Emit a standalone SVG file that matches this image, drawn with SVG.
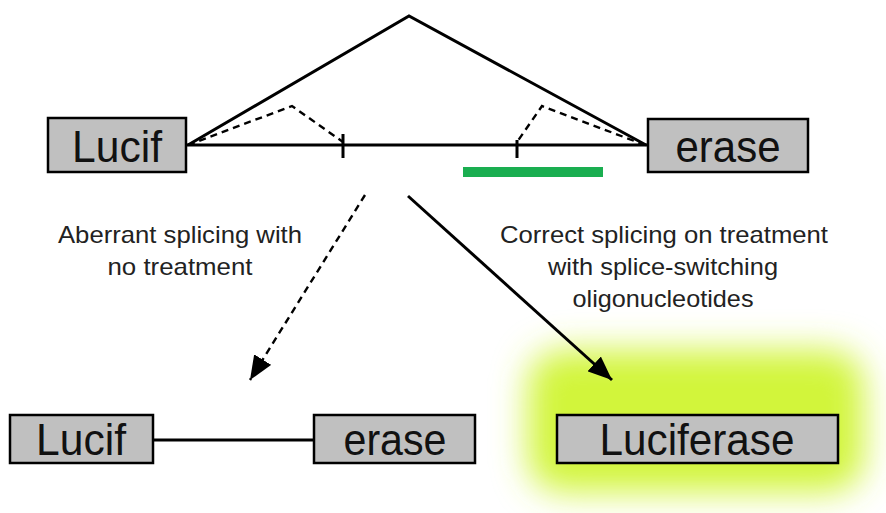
<svg xmlns="http://www.w3.org/2000/svg" width="886" height="513" viewBox="0 0 886 513">
<defs>
<style>
.box{fill:#c0c0c0;stroke:#000;stroke-width:2.5}
.lbl{font-family:"Liberation Sans","Open Sans",sans-serif;font-size:44px;fill:#111;text-anchor:middle}
.cap{font-family:"Liberation Sans","Open Sans",sans-serif;font-size:24px;fill:#222;text-anchor:middle}
.ln{fill:none;stroke:#000;stroke-width:3}
.dash{fill:none;stroke:#000;stroke-width:2.4;stroke-dasharray:7,5}
</style>
<marker id="arrow" viewBox="0 0 24 20" refX="24" refY="10" markerWidth="24" markerHeight="20" markerUnits="userSpaceOnUse" orient="auto">
<path d="M0,0 L24,10 L0,20 z" fill="#000"/>
</marker>
<filter id="blur" x="-50%" y="-50%" width="200%" height="200%">
<feGaussianBlur stdDeviation="17"/>
</filter>
</defs>

<g id="glow">
<rect x="528" y="350" width="336" height="142" rx="35" fill="#d2f53a" filter="url(#blur)"/>
</g>

<g id="connectors">
<path class="ln" d="M186,145 L648,145"/>
<path class="ln" d="M343,134 L343,158" stroke-width="2.5"/>
<path class="ln" d="M517,140 L517,158" stroke-width="2.5"/>
<path class="ln" d="M188,145 L409,16 L646,145" stroke-width="2.5"/>
<path class="dash" d="M188,145 L292,106 L343,142"/>
<path class="dash" d="M645,145 L542,106 L517,142"/>
<path class="dash" d="M365,195 L250,380" marker-end="url(#arrow)"/>
<path class="ln" d="M408,196 L612,380" stroke-width="2.4" marker-end="url(#arrow)"/>
<path class="ln" d="M153,440 L314,440" stroke-width="3.5"/>
</g>

<g id="green-bar">
<rect x="463" y="167" width="140" height="10" fill="#1aae50"/>
</g>

<g id="top-lucif">
<rect class="box" x="48" y="118" width="138" height="54"/>
<text class="lbl" x="117" y="162" textLength="90" lengthAdjust="spacingAndGlyphs">Lucif</text>
</g>
<g id="top-erase">
<rect class="box" x="648" y="119" width="160" height="53"/>
<text class="lbl" x="728" y="162" textLength="105" lengthAdjust="spacingAndGlyphs">erase</text>
</g>

<g id="caption-left">
<text class="cap" x="180" y="243" textLength="244" lengthAdjust="spacingAndGlyphs">Aberrant splicing with</text>
<text class="cap" x="180" y="275" textLength="145" lengthAdjust="spacingAndGlyphs">no treatment</text>
</g>
<g id="caption-right">
<text class="cap" x="664" y="243" textLength="328" lengthAdjust="spacingAndGlyphs">Correct splicing on treatment</text>
<text class="cap" x="663" y="275" textLength="230" lengthAdjust="spacingAndGlyphs">with splice-switching</text>
<text class="cap" x="663" y="307" textLength="181" lengthAdjust="spacingAndGlyphs">oligonucleotides</text>
</g>

<g id="bottom-lucif">
<rect class="box" x="10" y="415" width="143" height="48"/>
<text class="lbl" x="81" y="455" textLength="90" lengthAdjust="spacingAndGlyphs">Lucif</text>
</g>
<g id="bottom-erase">
<rect class="box" x="314" y="415" width="161" height="48"/>
<text class="lbl" x="395" y="455" textLength="103" lengthAdjust="spacingAndGlyphs">erase</text>
</g>
<g id="luciferase">
<rect class="box" x="557" y="415" width="281" height="48"/>
<text class="lbl" x="697" y="455" textLength="195" lengthAdjust="spacingAndGlyphs">Luciferase</text>
</g>
</svg>
